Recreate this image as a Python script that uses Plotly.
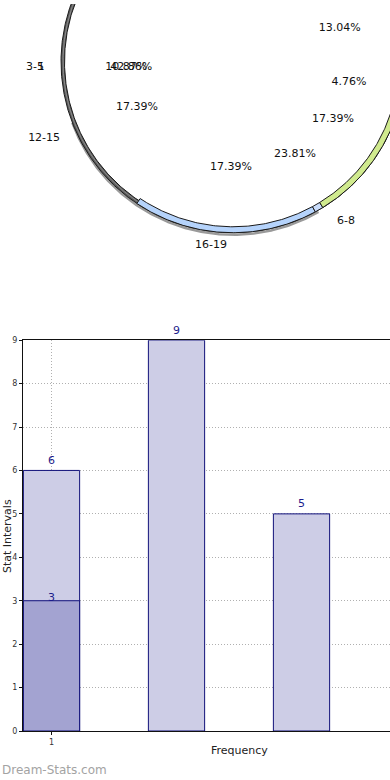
import numpy as np
import plotly.graph_objects as go

# ---------------- data ----------------
# Bar chart
bar_x = [1, 2, 3]
bar_values = [6, 9, 5]
overlay_x = [1]
overlay_values = [3]
x_tick_vals = [1]
x_tick_text = ["1"]
y_tick_vals = [0, 1, 2, 3, 4, 5, 6, 7, 8, 9]

# Pie chart (rim segments visible in the picture, in % of the circle)
rim_names = ["16-19", "sep", "6-8"]
rim_pcts = [17.39, 0.8, 13.04]
rim_colors = ["#b5d3fb", "#c9dcfb", "#d0ea8e"]

pct_labels = ["13.04%", "4.76%", "17.39%", "23.81%", "17.39%", "17.39%", "10.87%", "42.86%"]
cat_labels = ["3-5", "1", "12-15", "16-19", "6-8"]

# ---------------- layout constants for the pie ----------------
CX, CY, R_OUT, R_IN = 233.0, 58.0, 172.0, 166.0
RIM_START_DEG = 236.0
pct_angles = [17.6, 349.7, 329.9, 303.7, 268.9, 205.6, 183.2, 183.4]
pct_radii = [112, 118, 115.6, 111.8, 106, 106.5, 107, 102]
cat_angles = [181.7, 181.8, 202.2, 263.2, 305.1]
cat_radii = [198, 192, 204, 186, 196.7]


def pt(deg, r, cx=CX, cy=CY):
    a = np.deg2rad(deg)
    return cx + r * np.cos(a), cy - r * np.sin(a)


fig = go.Figure()

# shadow arc under the bottom of the pie
th = np.linspace(200, 300, 200)
sx, sy = pt(th, R_OUT - 1, CX, CY + 3)
fig.add_trace(go.Scatter(x=sx, y=sy, mode="lines", line=dict(color="#9a9a9a", width=2.5),
                         xaxis="x2", yaxis="y2", hoverinfo="skip", showlegend=False))

# full dark rim (3D edge)
th = np.linspace(0, 360, 721)
ox, oy = pt(th, R_OUT)
ix, iy = pt(th[::-1], R_OUT - 3.5)
fig.add_trace(go.Scatter(x=np.r_[ox, ix], y=np.r_[oy, iy], mode="lines", fill="toself",
                         fillcolor="#5a5a5a", line=dict(color="#1a1a1a", width=1),
                         xaxis="x2", yaxis="y2", hoverinfo="skip", showlegend=False))
fx, fy = pt(th, R_OUT - 2.0)
fig.add_trace(go.Scatter(x=fx, y=fy, mode="lines", line=dict(color="#8c8c8c", width=1),
                         xaxis="x2", yaxis="y2", hoverinfo="skip", showlegend=False))

# coloured rim segments from the percentages
start = RIM_START_DEG
for name, p, col in zip(rim_names, rim_pcts, rim_colors):
    span = p / 100.0 * 360.0
    t = np.linspace(start, start + span, 120)
    ox, oy = pt(t, R_OUT)
    ix, iy = pt(t[::-1], R_IN)
    fig.add_trace(go.Scatter(x=np.r_[ox, ix, ox[:1]], y=np.r_[oy, iy, oy[:1]], mode="lines",
                             fill="toself", fillcolor=col, line=dict(color="#1a1a1a", width=1),
                             xaxis="x2", yaxis="y2", hoverinfo="skip", showlegend=False,
                             name=name))
    start += span

# pie labels
px_, py_ = pt(np.array(pct_angles), np.array(pct_radii))
fig.add_trace(go.Scatter(x=px_, y=py_, mode="text", text=pct_labels,
                         textfont=dict(family="DejaVu Sans", size=11, color="#111"),
                         xaxis="x2", yaxis="y2", hoverinfo="skip", showlegend=False,
                         cliponaxis=False))
cx_, cy_ = pt(np.array(cat_angles), np.array(cat_radii))
fig.add_trace(go.Scatter(x=cx_, y=cy_, mode="text", text=cat_labels,
                         textfont=dict(family="DejaVu Sans", size=11, color="#111"),
                         xaxis="x2", yaxis="y2", hoverinfo="skip", showlegend=False,
                         cliponaxis=False))

# ---------------- bars ----------------
fig.add_trace(go.Bar(x=bar_x, y=bar_values, width=0.45, marker=dict(color="#cdcde6",
                     line=dict(color="#10107a", width=1)), showlegend=False, hoverinfo="skip"))
fig.add_trace(go.Bar(x=overlay_x, y=overlay_values, width=0.45, marker=dict(color="#a3a3d1",
                     line=dict(color="#10107a", width=1)), showlegend=False, hoverinfo="skip"))

label_font = dict(family="DejaVu Sans", size=11, color="#1c1c8c")
annotations = []
for xv, yv in zip(bar_x, bar_values):
    annotations.append(dict(x=xv, y=yv, xref="x", yref="y", text=str(yv), showarrow=False,
                            yshift=10, font=label_font))
for xv, yv in zip(overlay_x, overlay_values):
    annotations.append(dict(x=xv, y=yv, xref="x", yref="y", text=str(yv), showarrow=False,
                            yshift=3, font=label_font))

W, H = 390, 780
ML, MB = 23, 49
plot_h = H - MB
pie_bottom = 300

annotations += [
    dict(text="Stat Intervals", textangle=-90, xref="paper", yref="paper",
         x=(7 - ML) / (W - ML), y=(plot_h - 535) / plot_h, xanchor="center", yanchor="middle",
         showarrow=False, font=dict(size=11, color="#222")),
    dict(text="Frequency", xref="paper", yref="paper", xanchor="center", yanchor="middle",
         x=(239 - ML) / (W - ML), y=(plot_h - 751) / plot_h, showarrow=False,
         font=dict(size=11, color="#222")),
    dict(text="Dream-Stats.com", xref="paper", yref="paper", xanchor="left", yanchor="middle",
         x=(0 - ML) / (W - ML), y=(plot_h - 770) / plot_h, showarrow=False,
         font=dict(size=12, color="#a3a3a3")),
]

grid_dash = "1px,2px"
fig.update_layout(
    width=W, height=H, margin=dict(l=ML, r=0, t=0, b=MB),
    paper_bgcolor="white", plot_bgcolor="white", barmode="overlay",
    font=dict(family="DejaVu Sans", color="#222"),
    xaxis=dict(domain=[0, 1], range=[0.772, 3.708], tickvals=x_tick_vals, ticktext=x_tick_text,
               showgrid=True, gridcolor="#b0b0b0", griddash=grid_dash, gridwidth=1,
               showline=True, linecolor="#111", linewidth=1, mirror=True,
               ticks="outside", ticklen=3, tickcolor="#111",
               tickfont=dict(size=8, color="#333"), zeroline=False, fixedrange=True),
    yaxis=dict(domain=[0, (plot_h - 338) / plot_h], range=[0, 9], tickvals=y_tick_vals,
               showgrid=True, gridcolor="#b0b0b0", griddash=grid_dash, gridwidth=1,
               showline=True, linecolor="#111", linewidth=1,
               ticks="outside", ticklen=3, tickcolor="#111",
               tickfont=dict(size=8, color="#333"), zeroline=False, fixedrange=True),
    xaxis2=dict(domain=[0, 1], range=[ML, W], visible=False, anchor="y2", fixedrange=True),
    yaxis2=dict(domain=[(plot_h - pie_bottom) / plot_h, 1], range=[pie_bottom, 0],
                visible=False, anchor="x2", fixedrange=True),
    annotations=annotations,
)

fig.write_html("out.html", config={"displayModeBar": False},
               post_script="document.body.style.margin='0';document.body.style.overflow='hidden';")
